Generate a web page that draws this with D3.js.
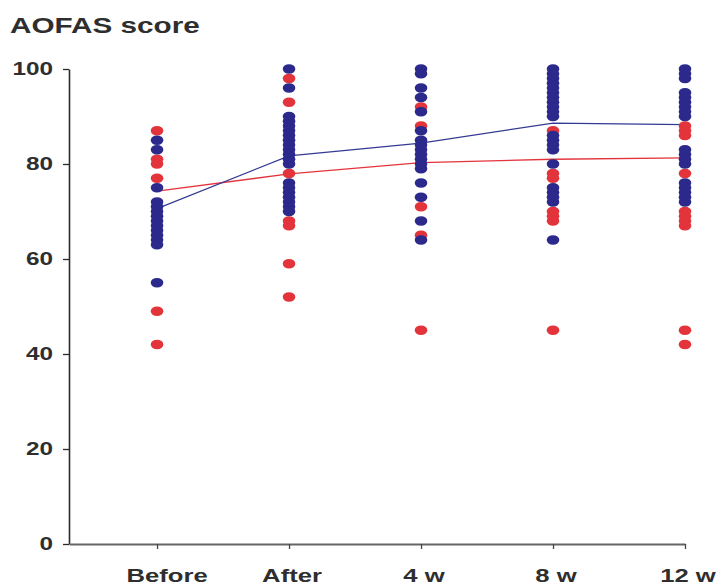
<!DOCTYPE html>
<html>
<head>
<meta charset="utf-8">
<script src="https://cdn.jsdelivr.net/npm/d3@7"></script>
<style>
  html, body { margin: 0; padding: 0; background: #fff; }
  svg { display: block; }
  text { font-family: "Liberation Sans", Arial, Helvetica, sans-serif; fill: #2e2e2e; }
</style>
</head>
<body>
<svg id="chart" width="719" height="585"></svg>
<script>
// Time points of the follow-up
const timepoints = ["Before", "After", "4 w", "8 w", "12 w"];

// Individual AOFAS scores, red group
const redScores = [
  [87, 81, 80, 77, 49, 42],
  [98, 93, 78, 68, 67, 59, 52],
  [92, 88, 71, 65, 45],
  [87, 78, 77, 70, 69, 68, 45],
  [88, 87, 86, 78, 70, 69, 68, 67, 45, 42]
];

// Individual AOFAS scores, blue group
const blueScores = [
  [85, 83, 75, 72, 71, 70, 69, 68, 67, 66, 65, 64, 63, 55],
  [100, 96, 90, 89, 88, 87, 86, 85, 84, 83, 82, 81, 80, 76, 75, 74, 73, 72, 71, 70],
  [100, 99, 96, 94, 91, 87, 85, 84, 83, 82, 81, 80, 79, 76, 73, 68, 64],
  [100, 99, 98, 97, 96, 95, 94, 93, 92, 91, 90, 86, 85, 84, 83, 80, 75, 74, 73, 72, 64],
  [100, 99, 98, 95, 94, 93, 92, 91, 90, 83, 82, 81, 80, 76, 75, 74, 73, 72]
];

// Group means at each time point
const redMeans = [74.3, 77.9, 80.3, 81.0, 81.3];
const blueMeans = [70.6, 81.7, 84.4, 88.6, 88.3];

// Y axis ticks
const yTicks = [0, 20, 40, 60, 80, 100];

const svg = d3.select("#chart");
const stretch = 1.35; // horizontal stretch applied to all lettering

const x = d3.scaleLinear().domain([-0.667, 4]).range([69, 685]);
const y = d3.scaleLinear().domain([0, 100]).range([544, 69]);

const RED = "#e3343c";
const BLUE = "#2b2a8c";

// Title
svg.append("text")
  .attr("transform", `translate(10,33) scale(${stretch},1)`)
  .style("font-size", "22px")
  .style("font-weight", "bold")
  .text("AOFAS score");

// Y axis
const yAxis = svg.append("g")
  .attr("transform", `translate(${x(-0.667)},0)`)
  .call(d3.axisLeft(y).tickValues(yTicks).tickSize(6).tickSizeOuter(0).tickFormat(""));
yAxis.select(".domain").attr("stroke", "#2a2a2a").attr("stroke-width", 1.6);
yAxis.selectAll(".tick line").attr("stroke", "#2a2a2a").attr("stroke-width", 1.3);

svg.append("g").selectAll("text")
  .data(yTicks)
  .join("text")
  .attr("transform", d => `translate(53,${y(d) + 6}) scale(${stretch},1)`)
  .attr("text-anchor", "end")
  .style("font-size", "18px")
  .style("font-weight", "bold")
  .text(d => d);

// X axis
const xAxis = svg.append("g")
  .attr("transform", `translate(0,${y(0)})`)
  .call(d3.axisBottom(x).tickValues(d3.range(timepoints.length)).tickSize(5).tickSizeOuter(0).tickFormat(""));
xAxis.select(".domain").attr("stroke", "#666").attr("stroke-width", 2);
xAxis.selectAll(".tick line").attr("stroke", "#444").attr("stroke-width", 1.3);

svg.append("g").selectAll("text")
  .data(timepoints)
  .join("text")
  .attr("transform", (d, i) => `translate(${x(i) + (i === 0 ? 10 : 3)},582) scale(${stretch},1)`)
  .attr("text-anchor", "middle")
  .style("font-size", "19px")
  .style("font-weight", "bold")
  .text(d => d);

// Mean lines
const line = d3.line().x((d, i) => x(i)).y(d => y(d));
svg.append("path").datum(redMeans)
  .attr("d", line).attr("fill", "none").attr("stroke", RED).attr("stroke-width", 1.3);
svg.append("path").datum(blueMeans)
  .attr("d", line).attr("fill", "none").attr("stroke", "#353a94").attr("stroke-width", 1.3);

// Individual scores
function drawDots(groups, color) {
  const pts = groups.flatMap((vals, i) => vals.map(v => ({ i, v })));
  svg.append("g").selectAll("ellipse")
    .data(pts)
    .join("ellipse")
    .attr("cx", d => x(d.i))
    .attr("cy", d => y(d.v))
    .attr("rx", 6.3)
    .attr("ry", 4.8)
    .attr("fill", color);
}
drawDots(redScores, RED);
drawDots(blueScores, BLUE);
</script>
</body>
</html>
